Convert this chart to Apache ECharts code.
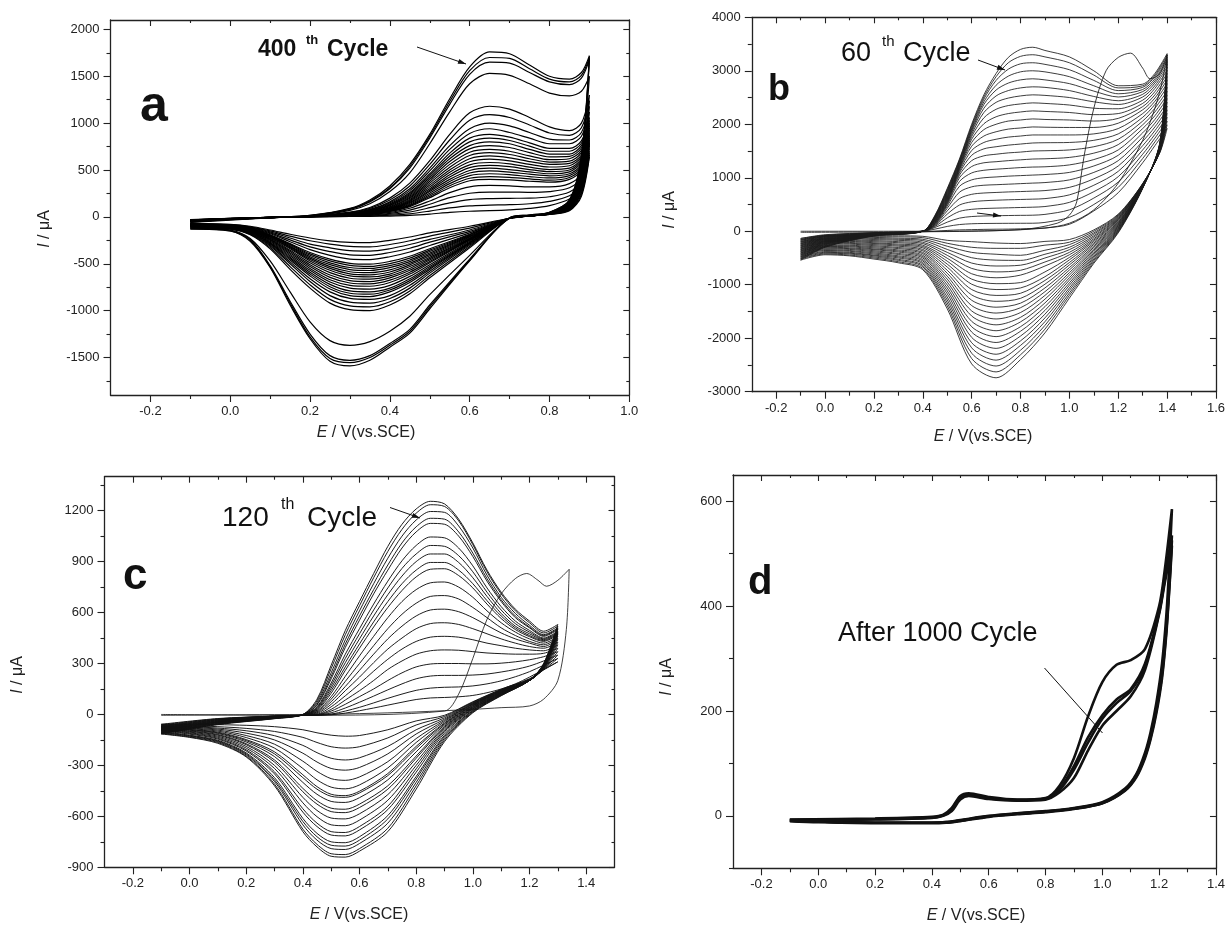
<!DOCTYPE html>
<html><head><meta charset="utf-8">
<script src="https://cdn.jsdelivr.net/npm/echarts@6/dist/echarts.min.js"></script>
<style>html,body{margin:0;padding:0;background:#fff}#main{width:1228px;height:926px}</style>
</head><body><div id="main"></div>
<script>
// ---------------- Panel a (400 cycles) ----------------
const aFwdE = [-0.1, 0.0, 0.1, 0.2, 0.3, 0.35, 0.4, 0.45, 0.5, 0.55, 0.6, 0.65, 0.7, 0.75, 0.8, 0.85, 0.88, 0.9];
const aRevE = [0.9, 0.88, 0.85, 0.8, 0.75, 0.7, 0.6, 0.5, 0.45, 0.4, 0.35, 0.3, 0.25, 0.2, 0.15, 0.1, 0.05, 0.0, -0.1];
const aFwdI = [
  [-60, -35, -10, 15, 90, 180, 330, 560, 880, 1260, 1600, 1760, 1740, 1620, 1500, 1470, 1540, 1720],
  [-55, -30, -8, 15, 85, 170, 310, 540, 860, 1230, 1560, 1700, 1690, 1580, 1470, 1440, 1510, 1700],
  [-50, -28, -8, 12, 80, 160, 300, 520, 840, 1200, 1520, 1650, 1640, 1540, 1440, 1410, 1480, 1680],
  [-50, -28, -8, 10, 70, 140, 270, 470, 780, 1120, 1420, 1530, 1510, 1420, 1320, 1290, 1340, 1500],
  [-45, -25, -8, 8, 50, 100, 200, 360, 600, 880, 1110, 1180, 1150, 1060, 960, 920, 1000, 1300],
  [-45, -25, -8, 7, 45, 90, 180, 330, 560, 820, 1030, 1090, 1060, 980, 895, 870, 950, 1240],
  [-45, -25, -8, 6, 40, 80, 160, 300, 520, 760, 940, 1000, 970, 900, 830, 820, 900, 1180],
  [-45, -25, -8, 5, 38, 75, 150, 280, 490, 720, 890, 940, 900, 840, 780, 780, 860, 1120],
  [-45, -25, -8, 5, 35, 70, 140, 260, 460, 680, 840, 880, 850, 790, 730, 730, 810, 1060],
  [-42, -24, -7, 5, 32, 66, 132, 248, 440, 650, 800, 840, 815, 755, 700, 700, 785, 1030],
  [-40, -22, -7, 5, 30, 62, 125, 235, 420, 620, 760, 800, 780, 720, 670, 670, 760, 1000],
  [-40, -22, -7, 4, 28, 58, 118, 222, 400, 590, 725, 760, 740, 685, 640, 645, 735, 975],
  [-40, -22, -7, 4, 27, 55, 110, 210, 380, 560, 690, 720, 700, 650, 610, 620, 710, 950],
  [-40, -22, -7, 4, 25, 52, 102, 198, 360, 530, 655, 685, 665, 620, 585, 595, 685, 925],
  [-40, -22, -7, 4, 24, 48, 95, 185, 340, 500, 620, 650, 630, 590, 560, 570, 660, 900],
  [-39, -21, -7, 4, 22, 45, 90, 175, 320, 475, 588, 615, 598, 560, 532, 545, 640, 880],
  [-38, -20, -6, 3, 21, 42, 85, 165, 300, 450, 555, 580, 565, 530, 505, 520, 620, 860],
  [-38, -20, -6, 3, 20, 40, 80, 155, 285, 425, 525, 550, 535, 505, 482, 500, 600, 840],
  [-38, -20, -6, 3, 19, 38, 75, 145, 270, 400, 495, 520, 505, 480, 460, 480, 580, 820],
  [-37, -20, -6, 3, 18, 36, 70, 135, 252, 378, 468, 490, 478, 455, 438, 460, 560, 805],
  [-36, -19, -6, 3, 17, 34, 66, 125, 235, 355, 440, 460, 450, 430, 415, 440, 540, 790],
  [-36, -19, -6, 3, 16, 32, 62, 118, 220, 332, 412, 430, 422, 405, 392, 420, 520, 775],
  [-36, -19, -6, 2, 15, 30, 58, 110, 205, 310, 385, 400, 395, 380, 370, 400, 500, 760],
  [-34, -18, -5, 2, 13, 25, 48, 92, 170, 258, 320, 335, 330, 320, 320, 355, 460, 730],
  [-34, -18, -5, 2, 11, 20, 38, 72, 135, 205, 252, 265, 265, 262, 270, 310, 420, 700],
  [-32, -17, -5, 2, 9, 16, 28, 52, 98, 150, 185, 195, 198, 200, 215, 265, 380, 680],
  [-32, -17, -5, 1, 6, 11, 18, 33, 62, 95, 118, 125, 130, 140, 165, 225, 340, 660],
  [-30, -16, -5, 1, 4, 6, 9, 16, 30, 48, 60, 66, 75, 90, 120, 190, 300, 640]
];
const aRevI = [
  [1720, 650, 180, 50, 20, -10, -470, -980, -1240, -1390, -1530, -1590, -1540, -1300, -940, -540, -260, -150, -130],
  [1700, 640, 180, 50, 20, -10, -460, -960, -1220, -1370, -1500, -1555, -1510, -1280, -920, -530, -250, -150, -125],
  [1680, 620, 170, 45, 15, -15, -450, -940, -1200, -1350, -1480, -1530, -1480, -1250, -900, -520, -240, -145, -120],
  [1500, 600, 160, 45, 15, -15, -410, -830, -1060, -1220, -1330, -1370, -1320, -1120, -800, -470, -230, -140, -115],
  [1300, 550, 150, 40, 10, -15, -330, -650, -820, -940, -1000, -990, -920, -760, -560, -340, -190, -130, -110],
  [1240, 525, 145, 40, 10, -15, -315, -625, -790, -905, -960, -950, -880, -725, -530, -325, -185, -128, -108],
  [1180, 500, 140, 40, 10, -15, -300, -600, -760, -870, -920, -910, -840, -690, -500, -310, -180, -125, -105],
  [1120, 480, 130, 40, 10, -15, -290, -580, -730, -840, -880, -870, -800, -660, -480, -300, -175, -125, -100],
  [1060, 460, 130, 40, 10, -15, -280, -560, -700, -800, -850, -840, -770, -630, -460, -290, -170, -120, -100],
  [1030, 450, 125, 39, 10, -15, -275, -545, -680, -780, -825, -815, -745, -610, -445, -280, -165, -118, -98],
  [1000, 440, 120, 38, 10, -15, -270, -530, -660, -760, -800, -790, -720, -590, -430, -270, -160, -115, -95],
  [975, 430, 118, 37, 10, -15, -260, -510, -635, -730, -770, -760, -695, -570, -415, -260, -155, -112, -92],
  [950, 420, 115, 36, 10, -15, -250, -490, -610, -700, -740, -730, -670, -550, -400, -250, -150, -110, -90],
  [925, 410, 112, 35, 10, -15, -245, -475, -590, -675, -715, -705, -645, -530, -385, -242, -148, -108, -89],
  [900, 400, 110, 35, 10, -15, -240, -460, -570, -650, -690, -680, -620, -510, -370, -235, -145, -105, -88],
  [880, 390, 108, 35, 10, -15, -235, -445, -550, -630, -665, -655, -595, -490, -355, -228, -142, -102, -86],
  [860, 380, 105, 34, 10, -15, -230, -430, -530, -610, -640, -630, -570, -470, -340, -220, -140, -100, -85],
  [840, 370, 102, 34, 10, -15, -222, -415, -512, -588, -618, -608, -550, -455, -330, -215, -138, -100, -84],
  [820, 360, 100, 33, 10, -15, -215, -400, -495, -565, -595, -585, -530, -440, -320, -210, -135, -100, -82],
  [805, 350, 98, 33, 10, -15, -208, -385, -478, -542, -572, -562, -510, -425, -310, -205, -132, -98, -81],
  [790, 340, 95, 32, 10, -15, -200, -370, -460, -520, -550, -540, -490, -410, -300, -200, -130, -95, -80],
  [775, 330, 92, 32, 10, -15, -192, -355, -440, -498, -528, -518, -470, -395, -292, -195, -128, -94, -79],
  [760, 320, 90, 31, 10, -15, -185, -340, -420, -475, -505, -495, -450, -380, -285, -190, -125, -92, -78],
  [730, 300, 85, 30, 10, -15, -170, -305, -375, -425, -455, -450, -410, -350, -265, -180, -120, -90, -76],
  [700, 280, 80, 30, 10, -15, -155, -270, -335, -380, -410, -405, -370, -320, -245, -170, -115, -88, -74],
  [680, 260, 75, 28, 10, -15, -140, -240, -295, -340, -365, -360, -330, -290, -225, -160, -110, -85, -72],
  [660, 240, 70, 27, 10, -15, -120, -205, -255, -295, -320, -315, -290, -255, -205, -150, -105, -82, -70],
  [640, 220, 65, 26, 10, -15, -100, -170, -215, -250, -275, -272, -255, -225, -185, -140, -100, -80, -68]
];
const aXTicks = [-0.2, 0.0, 0.2, 0.4, 0.6, 0.8, 1.0];
const aXMinor = [-0.1, 0.1, 0.3, 0.5, 0.7, 0.9];
const aYTicks = [-1500, -1000, -500, 0, 500, 1000, 1500, 2000];
const aYMinor = [-1750, -1250, -750, -250, 250, 750, 1250, 1750];

// ---------------- Panel b (60 cycles) ----------------
const bFwdE = [-0.1, 0.0, 0.2, 0.4, 0.45, 0.5, 0.55, 0.6, 0.65, 0.7, 0.75, 0.8, 0.85, 0.9, 1.0, 1.1, 1.2, 1.3, 1.35, 1.4];
const bRevE = [1.4, 1.37, 1.3, 1.2, 1.1, 1.0, 0.9, 0.8, 0.7, 0.6, 0.5, 0.4, 0.3, 0.2, 0.1, 0.0, -0.1];
const bFwdI = [
  [-540, -300, -90, 0, 300, 800, 1350, 2000, 2550, 2950, 3250, 3400, 3440, 3380, 3260, 3000, 2720, 2750, 2950, 3320],
  [-520, -290, -85, 0, 290, 780, 1330, 1970, 2510, 2890, 3150, 3270, 3300, 3260, 3150, 2920, 2680, 2720, 2920, 3290],
  [-505, -280, -80, 0, 280, 760, 1310, 1940, 2470, 2820, 3030, 3130, 3150, 3120, 3020, 2820, 2630, 2690, 2890, 3250],
  [-485, -270, -78, 0, 270, 740, 1290, 1910, 2420, 2730, 2900, 2980, 3000, 2980, 2890, 2720, 2570, 2650, 2850, 3210],
  [-470, -255, -75, 0, 260, 720, 1270, 1880, 2370, 2640, 2770, 2830, 2850, 2830, 2760, 2620, 2510, 2610, 2810, 3170],
  [-450, -245, -72, 0, 250, 700, 1250, 1850, 2300, 2530, 2630, 2680, 2700, 2690, 2630, 2520, 2440, 2560, 2770, 3120],
  [-435, -235, -70, 0, 240, 680, 1230, 1810, 2220, 2410, 2490, 2530, 2550, 2540, 2500, 2420, 2370, 2510, 2720, 3070],
  [-415, -225, -68, 0, 230, 660, 1210, 1770, 2120, 2280, 2350, 2380, 2400, 2390, 2360, 2300, 2290, 2450, 2670, 3010],
  [-400, -215, -65, 0, 220, 640, 1190, 1720, 2010, 2140, 2200, 2230, 2250, 2240, 2220, 2180, 2200, 2390, 2610, 2950],
  [-380, -205, -62, 0, 210, 620, 1170, 1660, 1900, 2000, 2060, 2080, 2100, 2090, 2080, 2060, 2110, 2330, 2550, 2890],
  [-365, -195, -60, 0, 200, 600, 1150, 1590, 1780, 1860, 1910, 1930, 1950, 1945, 1940, 1940, 2020, 2270, 2490, 2830],
  [-345, -185, -58, 0, 190, 580, 1120, 1510, 1660, 1720, 1760, 1780, 1800, 1800, 1800, 1820, 1920, 2200, 2430, 2760],
  [-330, -175, -55, 0, 180, 560, 1090, 1420, 1540, 1580, 1610, 1630, 1650, 1655, 1660, 1700, 1820, 2130, 2370, 2690],
  [-310, -165, -52, 0, 170, 540, 1050, 1320, 1410, 1440, 1465, 1480, 1500, 1505, 1520, 1580, 1720, 2060, 2300, 2620],
  [-295, -155, -50, 0, 160, 520, 1000, 1210, 1280, 1300, 1320, 1335, 1350, 1355, 1380, 1460, 1620, 1990, 2230, 2550],
  [-275, -145, -48, 0, 150, 500, 930, 1090, 1140, 1160, 1175, 1190, 1200, 1205, 1240, 1340, 1520, 1920, 2160, 2480],
  [-260, -135, -45, 0, 140, 470, 840, 960, 1000, 1015, 1030, 1040, 1050, 1060, 1100, 1220, 1420, 1840, 2090, 2410],
  [-240, -125, -42, 0, 130, 430, 730, 830, 860, 870, 880, 890, 900, 910, 960, 1100, 1320, 1760, 2020, 2340],
  [-225, -115, -40, 0, 120, 380, 610, 690, 715, 725, 735, 742, 750, 760, 820, 980, 1220, 1680, 1950, 2270],
  [-205, -105, -38, 0, 105, 320, 490, 550, 570, 580, 588, 594, 600, 610, 680, 860, 1120, 1600, 1880, 2200],
  [-190, -95, -35, 0, 90, 250, 370, 410, 425, 432, 438, 444, 450, 462, 540, 740, 1020, 1520, 1810, 2130],
  [-170, -85, -32, 0, 70, 170, 245, 275, 285, 290, 294, 297, 300, 315, 400, 620, 920, 1440, 1740, 2060],
  [-155, -75, -30, 0, 40, 90, 125, 140, 145, 147, 148, 149, 150, 165, 260, 500, 820, 1360, 1670, 1990],
  [-135, -65, -28, -10, 0, 15, 25, 30, 35, 38, 40, 45, 50, 60, 130, 380, 720, 1280, 1600, 1920]
];
const bRevI = [
  [3320, 1650, 800, -30, -600, -1250, -1900, -2400, -2740, -2480, -1450, -720, -590, -520, -460, -440, -540],
  [3290, 1640, 805, -15, -575, -1200, -1830, -2310, -2630, -2380, -1395, -695, -570, -500, -445, -425, -520],
  [3250, 1635, 810, 0, -545, -1155, -1760, -2225, -2520, -2280, -1340, -665, -545, -480, -425, -410, -505],
  [3210, 1625, 810, 15, -520, -1105, -1690, -2135, -2410, -2180, -1285, -640, -525, -460, -410, -395, -485],
  [3170, 1620, 815, 30, -490, -1060, -1620, -2050, -2300, -2085, -1230, -610, -500, -445, -395, -380, -470],
  [3120, 1610, 820, 45, -465, -1010, -1550, -1960, -2190, -1985, -1170, -585, -480, -425, -375, -360, -450],
  [3070, 1600, 825, 60, -435, -965, -1480, -1870, -2080, -1885, -1115, -555, -460, -405, -360, -345, -435],
  [3010, 1595, 830, 75, -410, -915, -1410, -1785, -1970, -1785, -1060, -530, -435, -385, -340, -330, -415],
  [2950, 1585, 830, 90, -380, -870, -1340, -1695, -1860, -1685, -1005, -500, -415, -365, -325, -315, -400],
  [2890, 1580, 835, 105, -355, -820, -1270, -1610, -1750, -1585, -950, -475, -390, -345, -310, -300, -380],
  [2830, 1570, 840, 120, -330, -775, -1200, -1520, -1640, -1490, -895, -450, -370, -330, -290, -285, -365],
  [2760, 1560, 845, 135, -300, -725, -1130, -1430, -1530, -1390, -840, -420, -350, -310, -275, -270, -345],
  [2690, 1555, 850, 150, -275, -680, -1060, -1345, -1420, -1290, -785, -395, -325, -290, -260, -255, -330],
  [2620, 1545, 850, 165, -245, -630, -990, -1255, -1310, -1190, -730, -365, -305, -270, -240, -235, -310],
  [2550, 1540, 855, 180, -220, -585, -920, -1160, -1200, -1090, -670, -340, -280, -250, -225, -220, -295],
  [2480, 1530, 860, 200, -190, -535, -850, -1060, -1090, -990, -615, -310, -260, -230, -210, -205, -275],
  [2410, 1520, 865, 215, -165, -490, -760, -960, -980, -895, -560, -285, -240, -215, -190, -190, -260],
  [2340, 1515, 870, 230, -140, -440, -650, -820, -870, -795, -505, -260, -215, -195, -175, -175, -240],
  [2270, 1505, 870, 245, -110, -395, -575, -730, -760, -695, -450, -230, -195, -175, -160, -160, -225],
  [2200, 1500, 875, 260, -85, -345, -500, -635, -650, -595, -395, -205, -170, -155, -140, -145, -205],
  [2130, 1490, 880, 275, -55, -300, -430, -545, -540, -495, -340, -175, -150, -135, -125, -130, -190],
  [2060, 1480, 885, 290, -30, -250, -355, -450, -430, -395, -280, -150, -130, -115, -105, -110, -170],
  [1990, 1475, 890, 305, 0, -205, -260, -320, -320, -300, -225, -120, -105, -100, -90, -95, -155],
  [1920, 1465, 890, 320, 25, -155, -190, -230, -220, -195, -170, -95, -85, -80, -75, -80, -135]
];
const bFirstE = [-0.1, 0.4, 0.8, 0.95, 1.0, 1.03, 1.06, 1.1, 1.15, 1.2, 1.25, 1.3, 1.33, 1.37, 1.4, 1.38, 1.35, 1.3, 1.2, 1.1, 1.0, 0.9, 0.7, 0.4, -0.1];
const bFirstI = [0, 0, 30, 150, 300, 550, 1400, 2300, 3000, 3250, 3330, 3050, 2850, 2950, 3300, 2800, 2300, 1700, 900, 400, 150, 60, 10, -10, -20];
const bXTicks = [-0.2, 0.0, 0.2, 0.4, 0.6, 0.8, 1.0, 1.2, 1.4, 1.6];
const bXMinor = [-0.1, 0.1, 0.3, 0.5, 0.7, 0.9, 1.1, 1.3, 1.5];
const bYTicks = [-3000, -2000, -1000, 0, 1000, 2000, 3000, 4000];
const bYMinor = [-2500, -1500, -500, 500, 1500, 2500, 3500];

// ---------------- Panel c (120 cycles) ----------------
const cFwdE = [-0.1, 0.1, 0.3, 0.4, 0.45, 0.5, 0.55, 0.6, 0.65, 0.7, 0.75, 0.8, 0.85, 0.9, 0.95, 1.0, 1.05, 1.1, 1.15, 1.2, 1.25, 1.3];
const cRevE = [1.3, 1.25, 1.2, 1.1, 1.0, 0.9, 0.8, 0.7, 0.6, 0.55, 0.5, 0.45, 0.4, 0.3, 0.2, 0.1, 0.0, -0.1];
const cFwdI = [
  [-115, -60, -25, 0, 90, 290, 495, 665, 830, 990, 1120, 1210, 1255, 1240, 1150, 1010, 850, 720, 620, 550, 490, 530],
  [-112, -58, -24, 0, 80, 270, 470, 640, 805, 960, 1090, 1185, 1235, 1225, 1140, 1000, 840, 710, 610, 540, 480, 520],
  [-108, -56, -23, 0, 70, 245, 440, 610, 770, 920, 1050, 1145, 1195, 1190, 1110, 980, 820, 690, 595, 525, 470, 510],
  [-105, -54, -22, -2, 60, 225, 415, 580, 735, 880, 1010, 1105, 1155, 1150, 1075, 950, 800, 675, 580, 515, 465, 505],
  [-102, -52, -21, -2, 55, 210, 395, 555, 710, 850, 980, 1075, 1125, 1120, 1050, 930, 785, 665, 570, 510, 460, 500],
  [-98, -50, -20, -3, 45, 185, 355, 505, 650, 785, 905, 995, 1045, 1040, 980, 875, 745, 635, 550, 495, 450, 490],
  [-95, -48, -19, -3, 40, 170, 330, 475, 615, 745, 860, 945, 995, 990, 935, 840, 720, 615, 535, 485, 445, 485],
  [-92, -46, -18, -4, 35, 155, 305, 445, 580, 705, 815, 900, 945, 945, 895, 805, 695, 595, 520, 475, 440, 480],
  [-90, -45, -17, -4, 30, 140, 280, 415, 545, 665, 770, 850, 895, 895, 850, 770, 670, 580, 510, 465, 435, 475],
  [-88, -44, -16, -5, 25, 125, 260, 390, 515, 630, 730, 810, 855, 858, 818, 745, 650, 565, 500, 458, 430, 470],
  [-85, -42, -15, -5, 20, 105, 225, 345, 460, 570, 665, 735, 775, 780, 750, 690, 610, 540, 485, 445, 420, 460],
  [-82, -40, -14, -5, 15, 90, 195, 300, 405, 505, 590, 655, 695, 700, 680, 630, 570, 510, 465, 430, 410, 450],
  [-80, -38, -13, -5, 10, 75, 165, 260, 355, 445, 520, 580, 615, 620, 605, 570, 525, 480, 445, 420, 400, 440],
  [-78, -36, -12, -5, 5, 60, 140, 220, 305, 385, 450, 505, 535, 540, 530, 505, 475, 445, 420, 400, 390, 425],
  [-75, -34, -11, -5, 0, 45, 110, 180, 255, 325, 385, 430, 455, 460, 455, 440, 420, 405, 390, 380, 375, 410],
  [-72, -32, -10, -5, -2, 30, 85, 140, 200, 265, 315, 355, 375, 380, 378, 370, 362, 358, 355, 355, 360, 390],
  [-70, -30, -10, -5, -3, 20, 60, 105, 150, 200, 245, 280, 297, 300, 300, 298, 298, 302, 310, 322, 340, 370],
  [-66, -28, -10, -5, -4, 10, 38, 72, 108, 145, 180, 210, 226, 230, 230, 232, 238, 250, 265, 285, 315, 350],
  [-62, -26, -10, -6, -5, 2, 20, 42, 68, 95, 120, 142, 155, 160, 162, 168, 180, 198, 222, 252, 290, 330],
  [-58, -24, -10, -6, -5, -2, 8, 22, 38, 55, 72, 88, 97, 100, 104, 112, 128, 150, 180, 220, 265, 310]
];
const cRevI = [
  [530, 300, 200, 110, 10, -160, -440, -690, -805, -840, -835, -780, -690, -420, -250, -170, -135, -115],
  [520, 298, 200, 112, 14, -150, -420, -670, -790, -825, -820, -765, -675, -410, -245, -165, -132, -112],
  [510, 296, 200, 114, 18, -140, -400, -640, -760, -795, -790, -740, -650, -395, -238, -160, -128, -108],
  [505, 294, 200, 116, 22, -130, -380, -615, -740, -775, -770, -720, -630, -385, -232, -156, -125, -105],
  [500, 292, 200, 118, 25, -122, -365, -595, -720, -755, -750, -700, -612, -372, -226, -152, -122, -102],
  [490, 290, 200, 120, 30, -110, -340, -560, -680, -715, -710, -660, -575, -350, -215, -145, -116, -98],
  [485, 288, 200, 122, 33, -100, -320, -540, -660, -695, -690, -640, -555, -338, -208, -140, -112, -95],
  [480, 286, 200, 124, 36, -92, -300, -505, -622, -655, -650, -602, -520, -318, -198, -134, -108, -92],
  [475, 284, 200, 126, 40, -84, -280, -472, -585, -615, -610, -565, -488, -300, -188, -128, -104, -90],
  [470, 282, 200, 128, 43, -76, -258, -440, -548, -578, -572, -528, -455, -280, -178, -122, -100, -88],
  [460, 280, 200, 130, 46, -70, -245, -420, -528, -558, -552, -508, -435, -268, -172, -118, -97, -85],
  [450, 278, 200, 132, 50, -62, -220, -385, -490, -518, -512, -470, -400, -248, -162, -112, -93, -82],
  [440, 276, 200, 134, 53, -55, -200, -360, -462, -488, -482, -440, -372, -232, -154, -108, -90, -80],
  [425, 274, 200, 136, 56, -50, -188, -348, -452, -478, -470, -425, -355, -220, -148, -104, -88, -78],
  [410, 272, 200, 138, 60, -42, -165, -315, -415, -438, -428, -385, -318, -198, -136, -98, -84, -75],
  [390, 270, 202, 140, 62, -35, -142, -278, -368, -388, -378, -335, -275, -175, -124, -92, -80, -72],
  [370, 268, 204, 142, 65, -28, -115, -232, -312, -328, -318, -280, -228, -150, -110, -86, -76, -70],
  [350, 266, 206, 144, 68, -20, -90, -188, -255, -268, -258, -225, -182, -125, -96, -80, -72, -66],
  [330, 264, 208, 146, 72, -12, -62, -138, -190, -198, -190, -165, -135, -100, -82, -72, -66, -62],
  [310, 262, 210, 148, 75, -5, -38, -90, -124, -128, -122, -108, -90, -72, -64, -60, -58, -58]
];
const cFirstE = [-0.1, 0.4, 0.9, 0.95, 1.0, 1.05, 1.1, 1.15, 1.19, 1.23, 1.26, 1.3, 1.34, 1.33, 1.3, 1.25, 1.2, 1.1, 1.0, 0.8, 0.6, 0.4, 0.2, -0.1];
const cFirstI = [0, -5, 20, 120, 330, 560, 710, 800, 830, 790, 755, 790, 855, 500, 200, 90, 50, 40, 30, 15, 5, 0, -2, -5];
const cXTicks = [-0.2, 0.0, 0.2, 0.4, 0.6, 0.8, 1.0, 1.2, 1.4];
const cXMinor = [-0.1, 0.1, 0.3, 0.5, 0.7, 0.9, 1.1, 1.3];
const cYTicks = [-900, -600, -300, 0, 300, 600, 900, 1200];
const cYMinor = [-750, -450, -150, 150, 450, 750, 1050, 1350];

// ---------------- Panel d (after 1000 cycles) ----------------
const dFwdE = [-0.1, 0.2, 0.4, 0.44, 0.47, 0.5, 0.53, 0.6, 0.7, 0.8, 0.85, 0.9, 0.95, 1.0, 1.05, 1.1, 1.15, 1.2, 1.22, 1.245];
const dRevE = [1.245, 1.235, 1.225, 1.21, 1.19, 1.17, 1.15, 1.12, 1.08, 1.0, 0.9, 0.8, 0.7, 0.6, 0.5, 0.45, 0.4, 0.2, 0.0, -0.1];
const dFwdI = [
  [-7, -5, -2, 2, 15, 38, 43, 36, 31, 34, 58, 110, 190, 255, 288, 297, 318, 400, 470, 585],
  [-8, -6, -3, 1, 13, 36, 41, 34, 30, 33, 52, 95, 150, 192, 222, 242, 290, 390, 455, 535],
  [-8, -6, -3, 1, 11, 34, 40, 33, 30, 32, 50, 88, 140, 185, 215, 238, 285, 388, 450, 525],
  [-9, -7, -4, 0, 9, 31, 38, 32, 29, 31, 45, 72, 125, 172, 200, 228, 278, 385, 445, 515]
];
const dRevI = [
  [585, 470, 380, 290, 215, 160, 120, 80, 52, 26, 15, 9, 5, 0, -8, -12, -13, -13, -11, -8],
  [535, 440, 360, 275, 205, 152, 115, 78, 50, 25, 14, 8, 4, -1, -9, -12, -13, -13, -11, -9],
  [525, 430, 352, 268, 200, 150, 113, 76, 49, 24, 14, 8, 4, -1, -9, -13, -13, -13, -11, -9],
  [515, 425, 345, 262, 195, 146, 110, 74, 48, 24, 13, 7, 3, -2, -10, -13, -14, -14, -12, -10]
];
const dXTicks = [-0.2, 0.0, 0.2, 0.4, 0.6, 0.8, 1.0, 1.2, 1.4];
const dXMinor = [-0.1, 0.1, 0.3, 0.5, 0.7, 0.9, 1.1, 1.3];
const dYTicks = [0, 200, 400, 600];
const dYMinor = [-100, 100, 300, 500];

// ---------------- Build chart ----------------
const FONT = 'Liberation Sans, Arial, sans-serif';
const INK = '#222';
const chart = echarts.init(document.getElementById('main'), null, {renderer: 'canvas'});

const grids = [
  {left: 110.5, top: 20, width: 518.8, height: 375},
  {left: 751.8, top: 17.3, width: 465.5, height: 374.4},
  {left: 104.5, top: 476.7, width: 510, height: 390.6},
  {left: 733, top: 475, width: 485, height: 393.3}
];
const ranges = [
  {x: [-0.3, 1.0], y: [-1900, 2100], xt: aXTicks, xm: aXMinor, yt: aYTicks, ym: aYMinor},
  {x: [-0.3, 1.6], y: [-3000, 4000], xt: bXTicks, xm: bXMinor, yt: bYTicks, ym: bYMinor},
  {x: [-0.3, 1.5], y: [-900, 1400], xt: cXTicks, xm: cXMinor, yt: cYTicks, ym: cYMinor},
  {x: [-0.3, 1.4], y: [-100, 650], xt: dXTicks, xm: dXMinor, yt: dYTicks, ym: dYMinor}
];

const xAxes = [], yAxes = [];
ranges.forEach((r, gi) => {
  const line = {show: true, onZero: false, lineStyle: {color: INK, width: 1.3}};
  const noLine = {show: false, onZero: false};
  const tickStyle = {color: INK, width: 1.1};
  const base = (mn, mx) => ({type: 'value', gridIndex: gi, min: mn, max: mx, splitLine: {show: false}, offset: 0});
  xAxes.push(Object.assign(base(r.x[0], r.x[1]), {position: 'bottom', axisLine: line,
    axisTick: {show: true, inside: false, length: 7, customValues: r.xt, lineStyle: tickStyle},
    axisLabel: {show: true, customValues: r.xt, margin: 10, fontSize: 13, color: INK, fontFamily: FONT,
      formatter: v => Number(v).toFixed(1)}}));
  xAxes.push(Object.assign(base(r.x[0], r.x[1]), {position: 'bottom', axisLine: noLine,
    axisTick: {show: true, inside: false, length: 4, customValues: r.xm, lineStyle: tickStyle},
    axisLabel: {show: false}}));
  xAxes.push(Object.assign(base(r.x[0], r.x[1]), {position: 'top', axisLine: line,
    axisTick: {show: true, inside: true, length: 6, customValues: r.xt, lineStyle: tickStyle},
    axisLabel: {show: false}}));
  xAxes.push(Object.assign(base(r.x[0], r.x[1]), {position: 'top', axisLine: noLine,
    axisTick: {show: true, inside: true, length: 3, customValues: r.xm, lineStyle: tickStyle},
    axisLabel: {show: false}}));
  yAxes.push(Object.assign(base(r.y[0], r.y[1]), {position: 'left', axisLine: line,
    axisTick: {show: true, inside: false, length: 7, customValues: r.yt, lineStyle: tickStyle},
    axisLabel: {show: true, customValues: r.yt, margin: 11, fontSize: 13, color: INK, fontFamily: FONT,
      formatter: v => String(Math.round(v))}}));
  yAxes.push(Object.assign(base(r.y[0], r.y[1]), {position: 'left', axisLine: noLine,
    axisTick: {show: true, inside: false, length: 4, customValues: r.ym, lineStyle: tickStyle},
    axisLabel: {show: false}}));
  yAxes.push(Object.assign(base(r.y[0], r.y[1]), {position: 'right', axisLine: line,
    axisTick: {show: true, inside: true, length: 6, customValues: r.yt, lineStyle: tickStyle},
    axisLabel: {show: false}}));
  yAxes.push(Object.assign(base(r.y[0], r.y[1]), {position: 'right', axisLine: noLine,
    axisTick: {show: true, inside: true, length: 3, customValues: r.ym, lineStyle: tickStyle},
    axisLabel: {show: false}}));
});

function cycles(gi, fwdE, revE, fwdI, revI, lineStyle, smooth) {
  return fwdI.map((f, k) => {
    const pts = fwdE.map((e, i) => [e, f[i]]);
    const r = revI[k];
    for (let i = 1; i < revE.length; i++) pts.push([revE[i], r[i]]);
    return {type: 'line', xAxisIndex: gi * 4, yAxisIndex: gi * 4, data: pts, symbol: 'none',
      showSymbol: false, smooth: smooth, silent: true, lineStyle: lineStyle, z: 2};
  });
}
function single(gi, E, I, lineStyle) {
  return {type: 'line', xAxisIndex: gi * 4, yAxisIndex: gi * 4, data: E.map((e, i) => [e, I[i]]),
    symbol: 'none', showSymbol: false, smooth: 0.3, silent: true, lineStyle: lineStyle, z: 2};
}

const series = [].concat(
  cycles(0, aFwdE, aRevE, aFwdI, aRevI, {color: '#000', width: 1.2}, 0.3),
  cycles(1, bFwdE, bRevE, bFwdI, bRevI, {color: '#1a1a1a', width: 0.85}, 0.3),
  [single(1, bFirstE, bFirstI, {color: '#1a1a1a', width: 0.85})],
  cycles(2, cFwdE, cRevE, cFwdI, cRevI, {color: '#111', width: 0.95}, 0.3),
  [single(2, cFirstE, cFirstI, {color: '#111', width: 0.8})],
  cycles(3, dFwdE, dRevE, dFwdI, dRevI, {color: '#111', width: 2.6}, 0.3)
);

function txt(x, y, text, size, opts) {
  opts = opts || {};
  return {type: 'text', x: x, y: y, rotation: opts.rot || 0, z: 100, silent: true,
    style: {text: text, fontSize: size, fontFamily: FONT, fontWeight: opts.bold ? 'bold' : 'normal',
      fill: opts.fill || '#111', align: opts.align || 'left', verticalAlign: 'middle',
      rich: opts.rich}};
}
function arrow(x1, y1, x2, y2, head) {
  const els = [{type: 'line', z: 100, silent: true, shape: {x1: x1, y1: y1, x2: x2, y2: y2},
    style: {stroke: '#111', lineWidth: 1}}];
  if (head) {
    const a = Math.atan2(y2 - y1, x2 - x1), L = 8, W = 2.6;
    const bx = x2 - L * Math.cos(a), by = y2 - L * Math.sin(a);
    els.push({type: 'polygon', z: 100, silent: true, shape: {points: [[x2, y2],
      [bx + W * Math.sin(a), by - W * Math.cos(a)], [bx - W * Math.sin(a), by + W * Math.cos(a)]]},
      style: {fill: '#111'}});
  }
  return els;
}
const italic = {i: {fontStyle: 'italic', fontSize: 16, fontFamily: FONT, fill: INK}, n: {fontSize: 16, fontFamily: FONT, fill: INK}};
const xName = '{i|E}{n| / V(vs.SCE)}';
const yName = '{i|I}{n| / \u03bcA}';

const graphics = [].concat(
  [txt(140, 107, 'a', 50, {bold: true}), txt(768, 90, 'b', 36, {bold: true}),
   txt(123, 577, 'c', 44, {bold: true}), txt(748, 583, 'd', 40, {bold: true})],
  [txt(258, 50, '400', 23, {bold: true}), txt(306, 40, 'th', 13, {bold: true}), txt(327, 50, 'Cycle', 23, {bold: true}),
   txt(841, 53.5, '60', 27), txt(882, 42, 'th', 15), txt(903, 53.5, 'Cycle', 27),
   txt(222, 518, '120', 28), txt(281, 504.5, 'th', 16), txt(307, 518, 'Cycle', 28),
   txt(838, 633.5, 'After 1000 Cycle', 27)],
  arrow(417, 47, 466, 64, true),
  arrow(978, 60, 1005, 70, true),
  arrow(390, 507.5, 420, 518, true),
  arrow(977, 213, 1001, 216, true),
  arrow(1044.5, 668, 1102.5, 733, false),
  [txt(366, 433, xName, 16, {align: 'center', rich: italic}),
   txt(983, 437, xName, 16, {align: 'center', rich: italic}),
   txt(359, 915, xName, 16, {align: 'center', rich: italic}),
   txt(976, 916, xName, 16, {align: 'center', rich: italic}),
   txt(45, 229, yName, 16, {align: 'center', rot: Math.PI / 2, rich: italic}),
   txt(670, 210, yName, 16, {align: 'center', rot: Math.PI / 2, rich: italic}),
   txt(18, 675, yName, 16, {align: 'center', rot: Math.PI / 2, rich: italic}),
   txt(667, 677, yName, 16, {align: 'center', rot: Math.PI / 2, rich: italic})]
);

chart.setOption({
  animation: false,
  backgroundColor: '#fff',
  grid: grids,
  xAxis: xAxes,
  yAxis: yAxes,
  series: series,
  graphic: graphics
});
</script></body></html>
